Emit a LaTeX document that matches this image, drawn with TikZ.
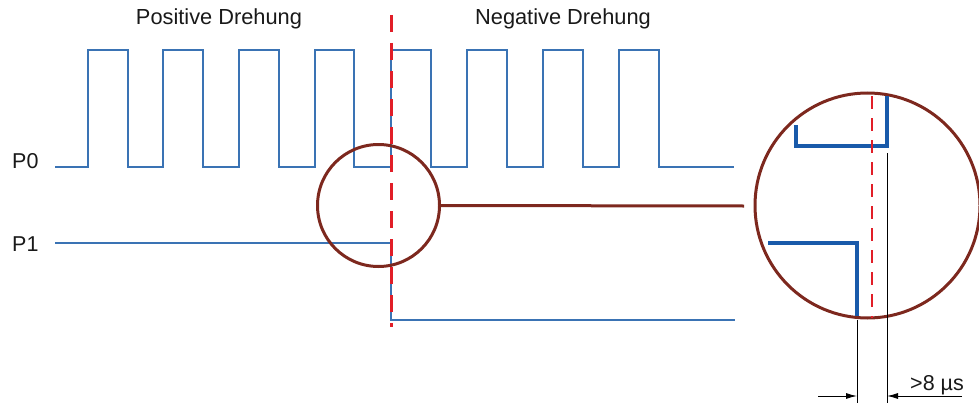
\documentclass[tikz,border=0pt]{standalone}
\usepackage{fontspec}
\setmainfont{Liberation Sans}
\usetikzlibrary{arrows.meta}
\definecolor{sigblue}{RGB}{58,115,180}
\definecolor{deepblue}{RGB}{25,90,170}
\definecolor{zoombrown}{RGB}{125,40,30}
\definecolor{cutred}{RGB}{225,30,40}
\tikzset{
  signal/.style={draw=sigblue, line width=1.3pt},
  thicksig/.style={draw=deepblue, line width=3.8pt},
  lens/.style={circle, draw=zoombrown, line width=3pt, inner sep=0pt},
  cutline/.style={draw=cutred, line width=3pt, dash pattern=on 17pt off 11pt},
  cutthin/.style={draw=cutred, line width=2.5pt, dash pattern=on 13pt off 9pt},
  dimline/.style={draw=black, line width=0.9pt},
  dimarrow/.style={draw=black, line width=0.9pt, -{Latex[length=11pt,width=6pt]}},
  lbl/.style={font=\fontsize{21.8}{26}\selectfont, text=black!90, inner sep=0pt, anchor=base},
  plbl/.style={font=\fontsize{21.5}{26}\selectfont, text=black!90, inner sep=0pt, anchor=base west}
}
\begin{document}
\begin{tikzpicture}[x=1pt,y=-1pt]
\useasboundingbox (0,0) rectangle (979,404);
% titles
\node[lbl] (tpos) at (219,25) {Positive Drehung};
\node[lbl] (tneg) at (563,25) {Negative Drehung};
\node[plbl] (p0) at (12,168) {P0};
\node[plbl] (p1) at (12,251) {P1};
% P0 waveform
\draw[signal] (55,167)
  -- (88,167) -- (88,50) -- (128,50) -- (128,167)
  -- (163,167) -- (163,50) -- (203,50) -- (203,167)
  -- (239,167) -- (239,50) -- (279,50) -- (279,167)
  -- (315,167) -- (315,50) -- (354,50) -- (354,167)
  -- (391,167) -- (391,50) -- (431,50) -- (431,167)
  -- (467,167) -- (467,50) -- (507,50) -- (507,167)
  -- (543,167) -- (543,50) -- (583,50) -- (583,167)
  -- (619,167) -- (619,50) -- (659,50) -- (659,167)
  -- (734,167);
% P1 waveform
\draw[signal] (55,243) -- (391,243) -- (391,320) -- (735,320);
% cut line
\draw[cutline] (391,15) -- (391,327);
% small lens and connector
\node[lens, minimum size=122pt] (small) at (378.5,205.5) {};
\coordinate (lineend) at (744,206);
\draw[draw=zoombrown, line width=3pt] (small.east) -- (lineend);
% big lens
\node[lens, minimum size=225pt] (big) at (867.5,205.5) {};
% magnified signals
\draw[thicksig] (796,125) -- (796,146) -- (887,146) -- (887,96);
\draw[thicksig] (768,243) -- (857,243) -- (857,316);
\draw[cutthin] (872,96) -- (872,318);
% dimension
\coordinate (d1top) at (857,320);
\coordinate (d1bot) at (857,403);
\coordinate (d2top) at (887,153);
\coordinate (d2bot) at (887,403);
\draw[dimline] (d1top) -- (d1bot);
\draw[dimline] (d2top) -- (d2bot);
\coordinate (a1s) at (818,396);
\coordinate (a1e) at (857,396);
\coordinate (a2s) at (962,396);
\coordinate (a2e) at (887,396);
\draw[dimarrow] (a1s) -- (a1e);
\draw[dimarrow] (a2s) -- (a2e);
\node[plbl] (dt) at (910,390) {>8 µs};
\end{tikzpicture}
\end{document}
